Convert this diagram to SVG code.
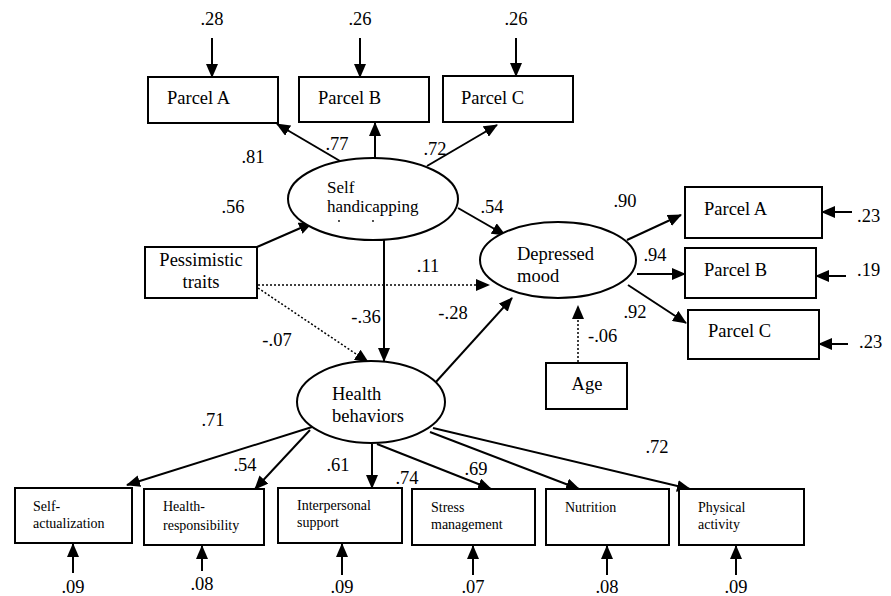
<svg xmlns="http://www.w3.org/2000/svg" width="891" height="596" viewBox="0 0 891 596" font-family="'Liberation Serif', 'DejaVu Serif', serif">
<style>
text{font-family:'Liberation Serif','DejaVu Serif',serif;fill:#000}
.t{font-size:18.5px}
.s{font-size:17px}
.m{font-size:14px}
.c{text-anchor:middle}
.box{fill:#fff;stroke:#000;stroke-width:2}
.ell{fill:#fff;stroke:#000;stroke-width:2}
.ln{stroke:#000;stroke-width:2;fill:none;marker-end:url(#ah)}
.dt{stroke:#000;stroke-width:1.5;stroke-dasharray:2 2;fill:none;marker-end:url(#ah)}
</style>
<defs>
<marker id="ah" markerUnits="userSpaceOnUse" markerWidth="14" markerHeight="12" refX="13" refY="6" orient="auto" viewBox="0 0 14 12">
<path d="M0,0 L14,6 L0,12 z" fill="#000"/>
</marker>
</defs>
<rect width="891" height="596" fill="#fff"/>
<g id="connectors">
<line class="ln" x1="212" y1="38" x2="212" y2="77"/>
<line class="ln" x1="360" y1="38" x2="360" y2="77"/>
<line class="ln" x1="516" y1="38" x2="516" y2="76"/>
<line class="ln" x1="340" y1="161" x2="277" y2="124"/>
<line class="ln" x1="375" y1="158" x2="375" y2="123"/>
<line class="ln" x1="427" y1="166" x2="497" y2="125"/>
<line class="ln" x1="257" y1="247" x2="312" y2="223"/>
<line class="ln" x1="458" y1="208" x2="505" y2="235"/>
<line class="dt" x1="258" y1="285" x2="489" y2="285"/>
<line class="dt" x1="258" y1="288" x2="368" y2="362"/>
<line class="ln" x1="384" y1="238" x2="384" y2="361"/>
<line class="ln" x1="435" y1="383" x2="512" y2="298"/>
<line class="ln" x1="627" y1="240" x2="681" y2="215"/>
<line class="ln" x1="637" y1="274" x2="685" y2="274"/>
<line class="ln" x1="628" y1="285" x2="686" y2="323"/>
<line class="ln" x1="852" y1="212" x2="822" y2="212"/>
<line class="ln" x1="846" y1="276" x2="816" y2="276"/>
<line class="ln" x1="848" y1="344" x2="819" y2="344"/>
<line class="dt" x1="578" y1="362" x2="578" y2="306"/>
<line class="ln" x1="312" y1="427" x2="127" y2="485"/>
<line class="ln" x1="310" y1="430" x2="255" y2="489"/>
<line class="ln" x1="372" y1="444" x2="372" y2="488"/>
<line class="ln" x1="377" y1="444" x2="491" y2="489"/>
<line class="ln" x1="430" y1="432" x2="579" y2="489"/>
<line class="ln" x1="433" y1="428" x2="690" y2="489"/>
<line class="ln" x1="73" y1="573" x2="73" y2="544"/>
<line class="ln" x1="202" y1="571" x2="202" y2="546"/>
<line class="ln" x1="342" y1="575" x2="342" y2="544"/>
<line class="ln" x1="473" y1="575" x2="473" y2="546"/>
<line class="ln" x1="607" y1="575" x2="607" y2="546"/>
<line class="ln" x1="736" y1="575" x2="736" y2="546"/>
</g>
<g id="labels">
<text class="t c" x="212" y="25">.28</text>
<text class="t c" x="360" y="25">.26</text>
<text class="t c" x="516" y="25">.26</text>
<text class="t c" x="253" y="163">.81</text>
<text class="t c" x="337" y="150">.77</text>
<text class="t c" x="435" y="155">.72</text>
<text class="t c" x="233" y="213">.56</text>
<text class="t c" x="492" y="213">.54</text>
<text class="t c" x="428" y="272">.11</text>
<text class="t c" x="277" y="346">-.07</text>
<text class="t c" x="366" y="323">-.36</text>
<text class="t c" x="453" y="319">-.28</text>
<text class="t c" x="625" y="207">.90</text>
<text class="t c" x="655" y="261">.94</text>
<text class="t c" x="635" y="318">.92</text>
<text class="t" x="588" y="342">-.06</text>
<text class="t" x="857" y="222">.23</text>
<text class="t" x="857" y="276">.19</text>
<text class="t" x="859" y="348">.23</text>
<text class="t c" x="213" y="426">.71</text>
<text class="t c" x="245" y="471">.54</text>
<text class="t c" x="338" y="471">.61</text>
<text class="t c" x="407" y="484">.74</text>
<text class="t c" x="476" y="475">.69</text>
<text class="t c" x="657" y="453">.72</text>
<text class="t c" x="73" y="593">.09</text>
<text class="t c" x="202" y="590">.08</text>
<text class="t c" x="342" y="593">.09</text>
<text class="t c" x="473" y="593">.07</text>
<text class="t c" x="607" y="593">.08</text>
<text class="t c" x="736" y="593">.09</text>
</g>
<g id="parcelA_top"><rect class="box" x="148" y="77" width="130" height="46"/><text class="t" x="167" y="104">Parcel A</text></g>
<g id="parcelB_top"><rect class="box" x="299" y="77" width="130" height="45"/><text class="t" x="318" y="104">Parcel B</text></g>
<g id="parcelC_top"><rect class="box" x="443" y="76" width="130" height="46"/><text class="t" x="461" y="104">Parcel C</text></g>
<g id="self_handicapping"><ellipse class="ell" cx="373" cy="199" rx="85" ry="41"/><text class="s" x="327" y="193">Self</text><text class="s" x="327" y="212">handicapping</text><circle cx="339" cy="221" r="0.9"/><circle cx="373" cy="221" r="0.9"/></g>
<g id="pessimistic"><rect class="box" x="145" y="247" width="112" height="51"/><text class="t c" x="201" y="266">Pessimistic</text><text class="t c" x="201" y="288">traits</text></g>
<g id="depressed"><ellipse class="ell" cx="558" cy="260" rx="78" ry="38"/><text class="t" x="517" y="260">Depressed</text><text class="t" x="517" y="282">mood</text></g>
<g id="parcelA_r"><rect class="box" x="685" y="187" width="137" height="51"/><text class="t" x="704" y="215">Parcel A</text></g>
<g id="parcelB_r"><rect class="box" x="685" y="248" width="131" height="50"/><text class="t" x="704" y="276">Parcel B</text></g>
<g id="parcelC_r"><rect class="box" x="688" y="310" width="131" height="49"/><text class="t" x="708" y="337">Parcel C</text></g>
<g id="age"><rect class="box" x="546" y="363" width="81" height="46"/><text class="t c" x="587" y="390">Age</text></g>
<g id="health"><ellipse class="ell" cx="371" cy="402" rx="74" ry="41"/><text class="t" x="332" y="400">Health</text><text class="t" x="332" y="422">behaviors</text></g>
<g id="self_actualization"><rect class="box" x="15" y="488" width="117" height="55"/><text class="m" x="33" y="511">Self-</text><text class="m" x="33" y="528">actualization</text></g>
<g id="health_responsibility"><rect class="box" x="144" y="489" width="120" height="56"/><text class="m" x="163" y="511">Health-</text><text class="m" x="163" y="530">responsibility</text></g>
<g id="interpersonal"><rect class="box" x="278" y="488" width="124" height="55"/><text class="m" x="297" y="510">Interpersonal</text><text class="m" x="297" y="527">support</text></g>
<g id="stress"><rect class="box" x="412" y="489" width="123" height="56"/><text class="m" x="431" y="512">Stress</text><text class="m" x="431" y="529">management</text></g>
<g id="nutrition"><rect class="box" x="546" y="489" width="123" height="56"/><text class="m" x="565" y="512">Nutrition</text></g>
<g id="physical"><rect class="box" x="679" y="489" width="125" height="56"/><text class="m" x="698" y="512">Physical</text><text class="m" x="698" y="529">activity</text></g>
</svg>
